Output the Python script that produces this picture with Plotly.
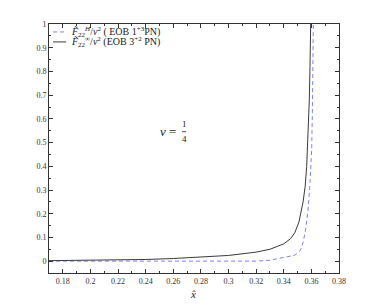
import plotly.graph_objects as go

# Data
x_inf = [0.17, 0.20, 0.24, 0.26, 0.28, 0.30, 0.32, 0.33, 0.34, 0.345, 0.348, 0.351,
         0.354, 0.3555, 0.3566, 0.3575, 0.3585, 0.359, 0.3595]
y_inf = [0.002, 0.003, 0.007, 0.011, 0.016, 0.024, 0.038, 0.05, 0.073, 0.095, 0.12, 0.165,
         0.25, 0.315, 0.40, 0.52, 0.68, 0.82, 1.0]

x_h = [0.17, 0.22, 0.26, 0.28, 0.30, 0.32, 0.33, 0.337, 0.342, 0.348, 0.352, 0.3541,
       0.356, 0.3578, 0.359, 0.3602, 0.3607, 0.3611, 0.3614]
y_h = [0.0, 0.0, -0.001, -0.002, -0.002, 0.0, 0.004, 0.011, 0.017, 0.025, 0.045, 0.08,
       0.14, 0.23, 0.33, 0.47, 0.62, 0.8, 1.0]

legend_labels = ["<i>F̃</i><sub>22</sub><sup><i>H</i></sup>/<i>ν</i><sup>2</sup> ( EOB 1<sup>+3</sup>PN)",
                 "<i>F̃</i><sub>22</sub><sup>∞</sup>/<i>ν</i><sup>2</sup> (EOB 3<sup>+2</sup> PN)"]

x_ticks = [0.18, 0.20, 0.22, 0.24, 0.26, 0.28, 0.30, 0.32, 0.34, 0.36, 0.38]
x_ticklabels = ["0.18", "0.2", "0.22", "0.24", "0.26", "0.28", "0.3", "0.32", "0.34", "0.36", "0.38"]
y_ticks = [0, 0.1, 0.2, 0.3, 0.4, 0.5, 0.6, 0.7, 0.8, 0.9, 1.0]
y_ticklabels = ["0", "0.1", "0.2", "0.3", "0.4", "0.5", "0.6", "0.7", "0.8", "0.9", "1"]

blue = "#8080ff"
dark = "#3a3a3a"
font = "Liberation Serif"

fig = go.Figure()
fig.add_trace(go.Scatter(x=x_h, y=y_h, mode="lines",
                         line=dict(color=blue, width=1, dash="4px,3px"), showlegend=False))
fig.add_trace(go.Scatter(x=x_inf, y=y_inf, mode="lines",
                         line=dict(color=dark, width=1), showlegend=False))

axis_common = dict(showline=True, linecolor="#333", linewidth=1, mirror="allticks",
                   ticks="inside", ticklen=4, tickcolor="#333", showgrid=False, zeroline=False,
                   tickfont=dict(family=font, size=8, color="#333"))
fig.update_xaxes(range=[0.17, 0.38], tickvals=x_ticks, ticktext=x_ticklabels,
                 minor=dict(ticks="inside", ticklen=2, dtick=0.01, tick0=0.17, tickcolor="#333"),
                 **axis_common)
fig.update_yaxes(range=[-0.05, 1.0], tickvals=y_ticks, ticktext=y_ticklabels,
                 minor=dict(ticks="inside", ticklen=2, dtick=0.05, tick0=0.05, tickcolor="#333"),
                 **axis_common)

# manual legend
rows = [0.968, 0.928]
styles = [dict(color=blue, width=1, dash="4px,3px"), dict(color=dark, width=1)]
for yy, st, lab in zip(rows, styles, legend_labels):
    fig.add_shape(type="line", xref="paper", yref="paper", x0=0.014, x1=0.059, y0=yy, y1=yy, line=st)
    fig.add_annotation(xref="paper", yref="paper", x=0.069, y=yy, text=lab, showarrow=False,
                       xanchor="left", yanchor="middle", font=dict(family=font, size=10, color="#222"))

# nu = 1/4
fig.add_annotation(x=0.2636, y=0.545, text="<i>ν</i> =", showarrow=False, xanchor="right",
                   font=dict(family=font, size=13, color="#222"))
fig.add_annotation(x=0.2678, y=0.578, text="1", showarrow=False,
                   font=dict(family=font, size=9, color="#222"))
fig.add_annotation(x=0.2678, y=0.513, text="4", showarrow=False,
                   font=dict(family=font, size=9, color="#222"))
fig.add_shape(type="line", x0=0.2663, x1=0.2693, y0=0.546, y1=0.546, line=dict(color="#222", width=0.8))

# x label
fig.add_annotation(xref="paper", yref="paper", x=0.497, y=-0.085, text="<i>x̂</i>", showarrow=False,
                   yanchor="middle", font=dict(family=font, size=11, color="#222"))

# page body has an 8px margin, so the figure is shrunk and margins offset by 8px
fig.update_layout(width=366, height=299, margin=dict(l=41, r=35, t=16, b=34),
                  paper_bgcolor="white", plot_bgcolor="white", showlegend=False)
fig.write_html("out.html")
